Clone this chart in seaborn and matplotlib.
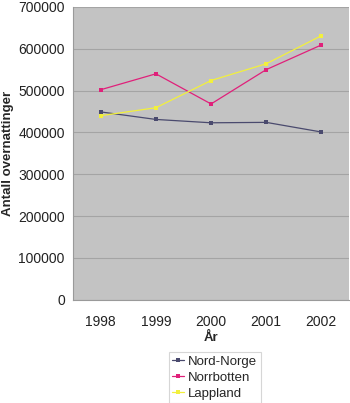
import matplotlib
matplotlib.use("Agg")
import matplotlib.pyplot as plt
import seaborn as sns
import pandas as pd
import numpy as np

years = ["1998", "1999", "2000", "2001", "2002"]
nord_norge = [449000, 431000, 423000, 424000, 401000]
norrbotten = [502000, 540000, 468000, 550000, 609000]
lappland = [440000, 459000, 524000, 564000, 631000]
series_names = ["Nord-Norge", "Norrbotten", "Lappland"]
colors = ["#4a4a6e", "#e0207a", "#f2f03c"]
yticks = [0, 100000, 200000, 300000, 400000, 500000, 600000, 700000]

rows = []
for name, vals in zip(series_names, [nord_norge, norrbotten, lappland]):
    for i, (yr, v) in enumerate(zip(years, vals)):
        rows.append({"pos": i, "År": yr, "value": v, "serie": name})
df = pd.DataFrame(rows)

sns.set_style("white")
plt.rcParams["font.family"] = ["Liberation Sans", "DejaVu Sans"]

fig = plt.figure(figsize=(3.5, 4.03), dpi=100)
ax = fig.add_axes([0.209, 0.256, 0.788, 0.727])
ax.set_facecolor("#c3c3c3")

sns.lineplot(data=df, x="pos", y="value", hue="serie", hue_order=series_names,
             palette=colors, marker="s", markersize=3, markeredgewidth=0,
             linewidth=0.9, ax=ax, legend=False)

ax.set_xlim(-0.5, 4.5)
ax.set_ylim(0, 700000)
ax.set_yticks(yticks)
ax.set_yticklabels([str(t) for t in yticks])
ax.yaxis.grid(True, color="#a4a4a4", linewidth=0.8)
ax.set_axisbelow(True)

ax.set_xticks(range(len(years)))
ax.set_xticklabels(years)
ax.set_xticks(np.arange(-0.5, 4.6, 1.0), minor=True)
ax.tick_params(axis="x", which="major", length=0, pad=11, labelsize=10, colors="#222222")
ax.tick_params(axis="x", which="minor", length=4, color="#9a9a9a", direction="out")
ax.tick_params(axis="y", length=4, direction="out", labelsize=10, pad=2,
               colors="#9a9a9a", labelcolor="#222222")

for s in ["top", "right"]:
    ax.spines[s].set_visible(False)
for s in ["left", "bottom"]:
    ax.spines[s].set_color("#9a9a9a")
    ax.spines[s].set_linewidth(0.8)

ax.set_xlabel("År", fontsize=9.5, fontweight="bold", labelpad=2)
ax.set_ylabel("Antall overnattinger", fontsize=9.5, fontweight="bold", labelpad=3)

handles = [plt.Line2D([], [], color=c, marker="s", markersize=3, markeredgewidth=0,
                      linewidth=0.9) for c in colors]
leg = fig.legend(handles, series_names, loc="upper left",
                 bbox_to_anchor=(169 / 350, 1 - 352 / 403), frameon=True,
                 fontsize=9.5, handlelength=0.9, handletextpad=0.3,
                 labelspacing=0.3, borderpad=0.25, fancybox=False,
                 borderaxespad=0)
leg.get_frame().set_edgecolor("#cccccc")
leg.get_frame().set_linewidth(0.8)

fig.savefig("out.png", dpi=100)
